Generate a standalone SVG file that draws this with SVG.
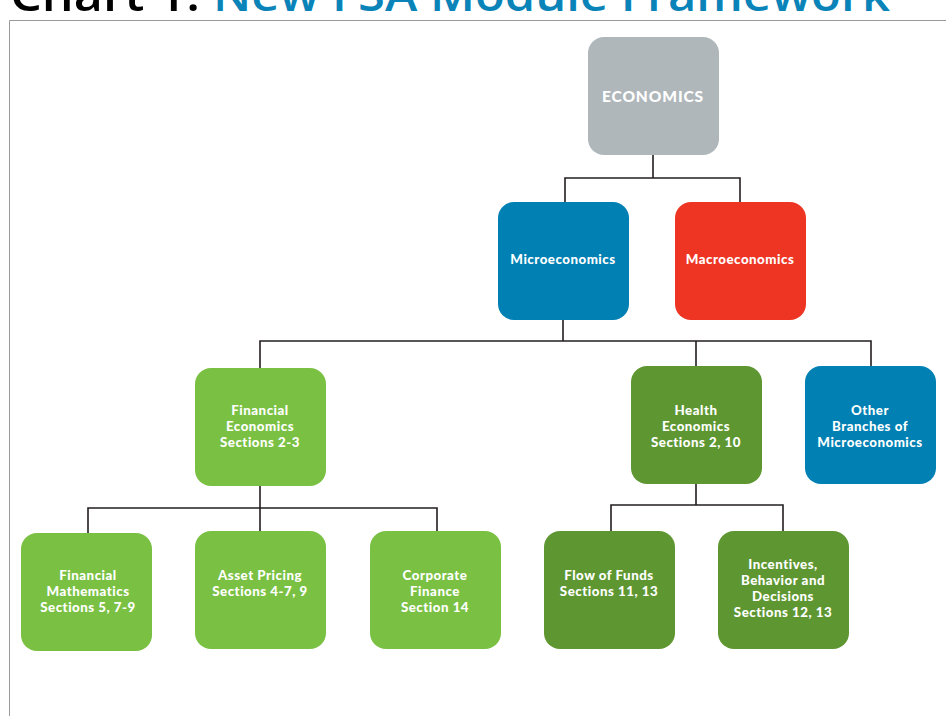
<svg xmlns="http://www.w3.org/2000/svg" width="946" height="716" viewBox="0 0 946 716">
<style>
.t{font-family:Lato,"Open Sans","Liberation Sans",sans-serif;font-weight:900;font-size:13.3px;letter-spacing:0.5px;fill:#fff;text-anchor:middle}
.big{font-size:15.5px;letter-spacing:0.9px}
.ttl{font-family:"Open Sans","Noto Sans","Liberation Sans",sans-serif;font-size:46px;font-weight:600}
.c{fill:none;stroke:#231f20;stroke-width:1.6}
.gray{fill:#b0b7bb}.blue{fill:#0080b3}.red{fill:#ee3524}.lg{fill:#7ac143}.dg{fill:#5e9732}
</style>
<rect width="946" height="716" fill="#fff"/>
<text class="ttl" x="10" y="11" fill="#000" textLength="190" lengthAdjust="spacingAndGlyphs">Chart 1:</text>
<text class="ttl" x="213" y="11" fill="#0a84b8" textLength="677" lengthAdjust="spacingAndGlyphs">New FSA Module Framework</text>
<path d="M9.5 716V20.5H946" fill="none" stroke="#9a9a9a" stroke-width="1"/>
<g id="connectors">
<path class="c" d="M653 155V178M565 202V178H740V202"/>
<path class="c" d="M563 320V341M260 368V341H871V366M696 341V366"/>
<path class="c" d="M260 486V508M88 533V508H437V531M260 508V531"/>
<path class="c" d="M696 484V505M611 531V505H783V531"/>
</g>
<g id="economics"><rect class="gray" x="588" y="37" width="131" height="118" rx="16"/><text class="t big" x="653" y="101.5">ECONOMICS</text></g>
<g id="micro"><rect class="blue" x="498" y="202" width="131" height="118" rx="16"/><text class="t" x="563" y="264">Microeconomics</text></g>
<g id="macro"><rect class="red" x="675" y="202" width="131" height="118" rx="16"/><text class="t" x="740" y="264">Macroeconomics</text></g>
<g id="fin-econ"><rect class="lg" x="195" y="368" width="131" height="118" rx="16"/><text class="t" x="260" y="414.5">Financial<tspan x="260" dy="16">Economics</tspan><tspan x="260" dy="16">Sections 2-3</tspan></text></g>
<g id="health"><rect class="dg" x="631" y="366" width="131" height="118" rx="16"/><text class="t" x="696" y="414.5">Health<tspan x="696" dy="16">Economics</tspan><tspan x="696" dy="16">Sections 2, 10</tspan></text></g>
<g id="other"><rect class="blue" x="805" y="366" width="131" height="118" rx="16"/><text class="t" x="870" y="414.5">Other<tspan x="870" dy="16">Branches of</tspan><tspan x="870" dy="16">Microeconomics</tspan></text></g>
<g id="fin-math"><rect class="lg" x="21" y="533" width="131" height="118" rx="16"/><text class="t" x="88" y="579.5">Financial<tspan x="88" dy="16">Mathematics</tspan><tspan x="88" dy="16">Sections 5, 7-9</tspan></text></g>
<g id="asset"><rect class="lg" x="195" y="531" width="131" height="118" rx="16"/><text class="t" x="260" y="579.5">Asset Pricing<tspan x="260" dy="16">Sections 4-7, 9</tspan></text></g>
<g id="corp"><rect class="lg" x="370" y="531" width="131" height="118" rx="16"/><text class="t" x="435" y="579.5">Corporate<tspan x="435" dy="16">Finance</tspan><tspan x="435" dy="16">Section 14</tspan></text></g>
<g id="flow"><rect class="dg" x="544" y="531" width="131" height="118" rx="16"/><text class="t" x="609" y="579.5">Flow of Funds<tspan x="609" dy="16">Sections 11, 13</tspan></text></g>
<g id="incent"><rect class="dg" x="718" y="531" width="131" height="118" rx="16"/><text class="t" x="783" y="568.5">Incentives,<tspan x="783" dy="16">Behavior and</tspan><tspan x="783" dy="16">Decisions</tspan><tspan x="783" dy="16">Sections 12, 13</tspan></text></g>
</svg>
